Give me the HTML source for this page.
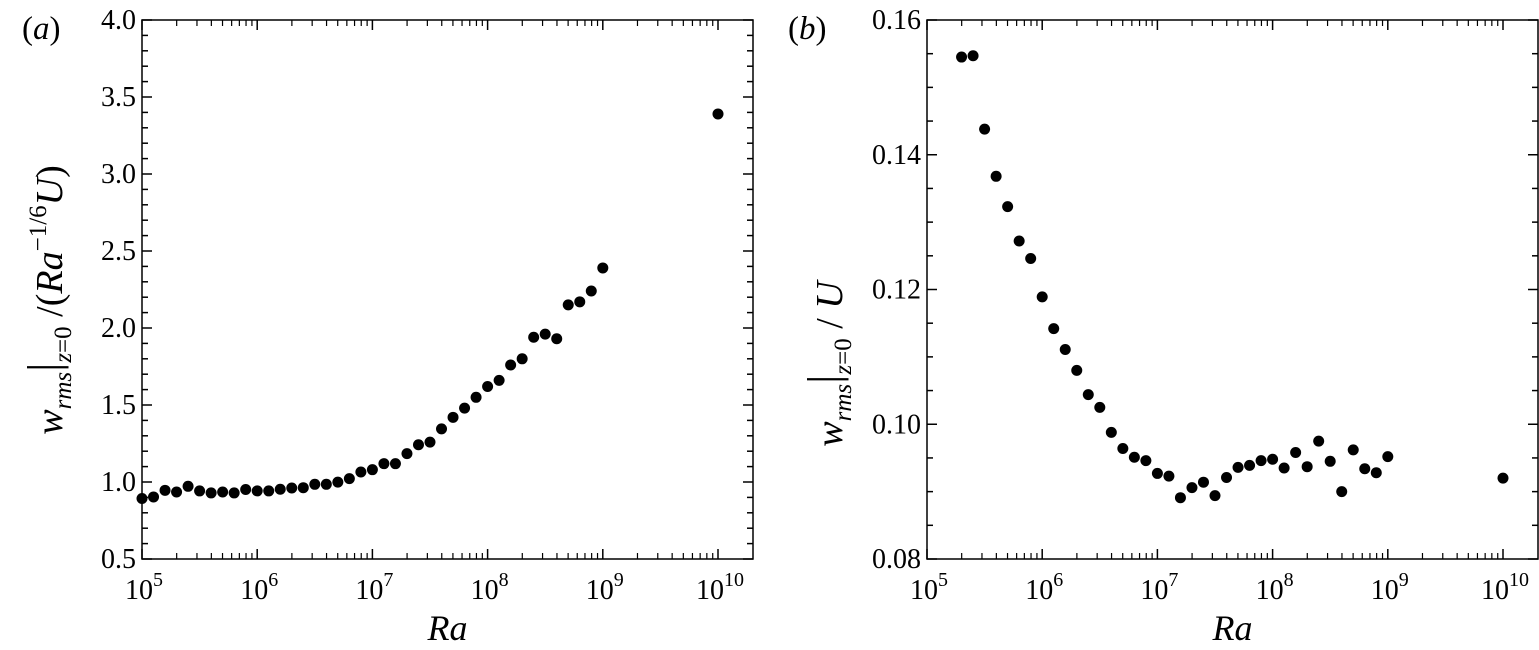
<!DOCTYPE html>
<html><head><meta charset="utf-8"><style>
html,body{margin:0;padding:0;background:#fff;}
svg{display:block;font-family:"Liberation Serif",serif;}
</style></head><body>
<svg id="chart" width="1539" height="650" viewBox="0 0 1539 650" xmlns="http://www.w3.org/2000/svg"></svg>
<script>
const logRaA = [5.0,5.1,5.2,5.3,5.4,5.5,5.6,5.7,5.8,5.9,6.0,6.1,6.2,6.3,6.4,6.5,6.6,6.7,6.8,6.9,7.0,7.1,7.2,7.3,7.4,7.5,7.6,7.7,7.8,7.9,8.0,8.1,8.2,8.3,8.4,8.5,8.6,8.7,8.8,8.9,9.0,10.0];
const valuesA = [0.893,0.903,0.946,0.935,0.972,0.942,0.929,0.935,0.929,0.951,0.942,0.942,0.953,0.961,0.963,0.985,0.985,0.999,1.022,1.065,1.08,1.119,1.119,1.184,1.242,1.259,1.345,1.42,1.48,1.55,1.62,1.66,1.76,1.80,1.94,1.96,1.93,2.15,2.17,2.24,2.39,3.39];
const logRaB = [5.3,5.4,5.5,5.6,5.7,5.8,5.9,6.0,6.1,6.2,6.3,6.4,6.5,6.6,6.7,6.8,6.9,7.0,7.1,7.2,7.3,7.4,7.5,7.6,7.7,7.8,7.9,8.0,8.1,8.2,8.3,8.4,8.5,8.6,8.7,8.8,8.9,9.0,10.0];
const valuesB = [0.1545,0.1547,0.1438,0.1368,0.1323,0.1272,0.1246,0.1189,0.1142,0.1111,0.1080,0.1044,0.1025,0.0988,0.0964,0.0951,0.0946,0.0927,0.0923,0.0891,0.0906,0.0914,0.0894,0.0921,0.0936,0.0939,0.0946,0.0948,0.0935,0.0958,0.0937,0.0975,0.0945,0.0900,0.0962,0.0934,0.0928,0.0952,0.0920];
const yTicksA = ["0.5","1.0","1.5","2.0","2.5","3.0","3.5","4.0"];
const yTicksB = ["0.08","0.10","0.12","0.14","0.16"];
const xDecades = [5,6,7,8,9,10];

const NS="http://www.w3.org/2000/svg";
const svg=document.getElementById('chart');
function mk(tag,attrs,parent){const e=document.createElementNS(NS,tag);for(const k in attrs)e.setAttribute(k,attrs[k]);(parent||svg).appendChild(e);return e;}

function panel(cfg){
  const g=mk('g',{});
  
  
  const L=cfg.left,R=cfg.right,T=20,B=559;
  const xs=v=>L+(v-5)/5*(R-35-L);
  const ys=v=>B-(v-cfg.ymin)/(cfg.ymax-cfg.ymin)*(B-T);
  const fr=mk('rect',{x:L,y:T,width:R-L,height:B-T,fill:'none',stroke:'#000','stroke-width':1.5},g);
  
  
  for(let d=5;d<=10;d++){
    const x=xs(d);
    mk('line',{x1:x,y1:B,x2:x,y2:B-10,stroke:'#000','stroke-width':1.5},g);
    mk('line',{x1:x,y1:T,x2:x,y2:T+10,stroke:'#000','stroke-width':1.5},g);
    if(d<10){for(let m=2;m<=9;m++){const xm=xs(d+Math.log10(m));
      mk('line',{x1:xm,y1:B,x2:xm,y2:B-6,stroke:'#000','stroke-width':1.2},g);
      mk('line',{x1:xm,y1:T,x2:xm,y2:T+6,stroke:'#000','stroke-width':1.2},g);}}
  }
  xDecades.forEach(d=>{
    const t=mk('text',{x:xs(d)+2,y:599,'font-size':28,'text-anchor':'middle'},g);
    
    
    t.textContent='10';
    const s=mk('tspan',{dy:-13,'font-size':20},t);s.textContent=String(d);
  });
  for(let v=cfg.ymin;v<=cfg.ymax+1e-9;v+=cfg.minor){
    const y=ys(v);const major=Math.abs(Math.round(v/cfg.major)*cfg.major-v)<1e-9;
    const len=major?10:6;
    mk('line',{x1:L,y1:y,x2:L+len,y2:y,stroke:'#000','stroke-width':1.5},g);
    mk('line',{x1:R,y1:y,x2:R-len,y2:y,stroke:'#000','stroke-width':1.5},g);
  }
  cfg.yTicks.forEach(lbl=>{
    const t=mk('text',{x:L-6,y:ys(parseFloat(lbl))+9,'font-size':28,'text-anchor':'end'},g);
    
    
    t.textContent=lbl;
  });
  cfg.xv.forEach((lx,i)=>{
    const c=mk('circle',{cx:xs(lx),cy:ys(cfg.yv[i]),r:5.5,fill:'#000'},g);
    
    
  });
  const xl=mk('text',{x:(L+R)/2,y:640,'font-size':36,'font-style':'italic','text-anchor':'middle'},g);
  
  
  xl.textContent='Ra';
  const pl=mk('text',{x:cfg.tagX,y:39,'font-size':33},g);
  
  
  pl.innerHTML='(<tspan font-style="italic">'+cfg.tag+'</tspan>)';
  return g;
}
panel({name:'panel-a',left:142,right:753,ymin:0.5,ymax:4.0,minor:0.1,major:0.5,yTicks:yTicksA,xv:logRaA,yv:valuesA,tag:'a',tagX:22});
panel({name:'panel-b',left:927,right:1538,ymin:0.08,ymax:0.16,minor:0.005,major:0.02,yTicks:yTicksB,xv:logRaB,yv:valuesB,tag:'b',tagX:788});

const ta=mk('text',{transform:'translate(62,300) rotate(-90)','font-size':38,'font-style':'italic','text-anchor':'middle'});


ta.innerHTML='w<tspan font-size="25" dy="9">rms</tspan><tspan font-style="normal" font-size="46" dy="-12">|</tspan><tspan font-size="25" dy="12">z</tspan><tspan font-size="25" font-style="normal">=0</tspan><tspan dy="-9" font-style="normal"> /(</tspan>Ra<tspan font-size="25" dy="-16" font-style="normal">−1/6</tspan><tspan dy="16">U</tspan><tspan font-style="normal">)</tspan>';
const tb=mk('text',{transform:'translate(842,364) rotate(-90)','font-size':38,'font-style':'italic','text-anchor':'middle'});


tb.innerHTML='w<tspan font-size="25" dy="9">rms</tspan><tspan font-style="normal" font-size="46" dy="-12">|</tspan><tspan font-size="25" dy="12">z</tspan><tspan font-size="25" font-style="normal">=0</tspan><tspan dy="-9" font-style="normal"> / </tspan>U';
</script>
</body></html>
